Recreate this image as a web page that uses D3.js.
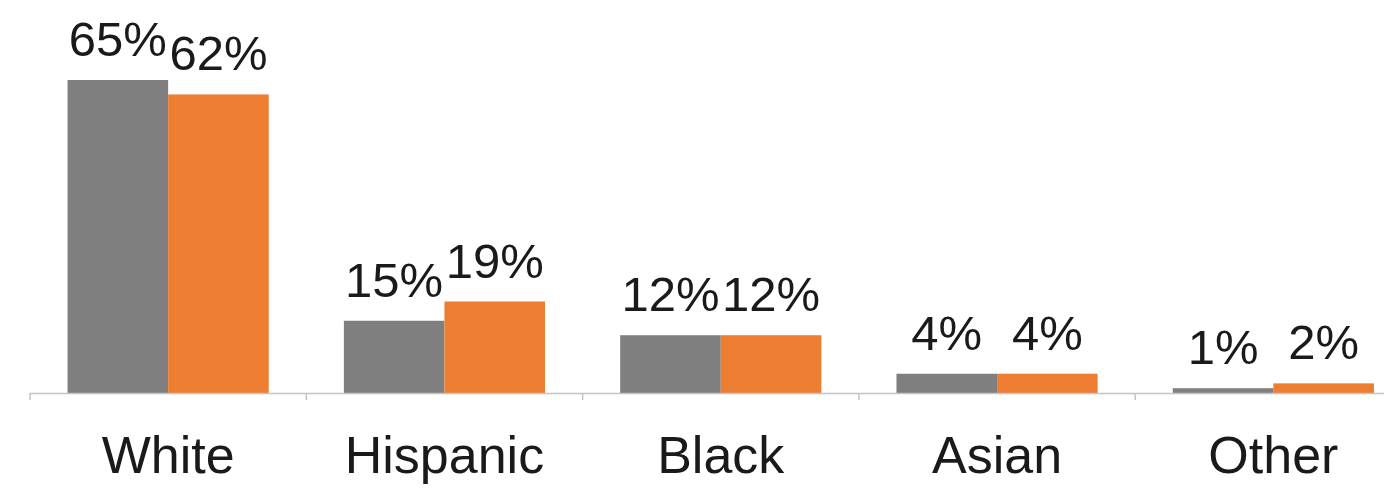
<!DOCTYPE html>
<html>
<head>
<meta charset="utf-8">
<script src="https://cdn.jsdelivr.net/npm/d3@7"></script>
<style>
  html, body { margin: 0; padding: 0; background: #ffffff; }
  svg { display: block; }
  text { font-family: "Liberation Sans", Arial, sans-serif; fill: #1a1a1a; }
</style>
</head>
<body>
<svg id="chart" width="1384" height="493"></svg>
<script>
// Share of population by race/ethnicity, two periods
const categories = ["White", "Hispanic", "Black", "Asian", "Other"];
const seriesNames = ["earlier", "later"];
const earlierValues = [65, 15, 12, 4, 1];
const laterValues = [62, 19, 12, 4, 2];
const valueLabels = [
  ["65%", "15%", "12%", "4%", "1%"],
  ["62%", "19%", "12%", "4%", "2%"]
];

const seriesValues = [earlierValues, laterValues];
const colors = ["#7f7f7f", "#ed7d31"];

const svg = d3.select("#chart");

const baseY = 393;
const x = d3.scaleBand()
  .domain(categories)
  .range([30, 30 + 5 * 276.3])
  .paddingInner(0)
  .paddingOuter(0);

const bw = x.bandwidth();
const xInner = d3.scaleBand()
  .domain(seriesNames)
  .range([bw * 0.136, bw * 0.864])
  .padding(0);

const y = d3.scaleLinear()
  .domain([0, 65])
  .range([baseY, 80]);

// bars
const groups = svg.append("g")
  .selectAll("g")
  .data(categories)
  .join("g")
  .attr("transform", d => `translate(${x(d)},0)`);

groups.selectAll("rect")
  .data((c, i) => seriesNames.map((s, j) => ({ s, j, v: seriesValues[j][i], label: valueLabels[j][i] })))
  .join("rect")
  .attr("x", d => xInner(d.s))
  .attr("width", xInner.bandwidth())
  .attr("y", d => y(d.v))
  .attr("height", d => baseY - y(d.v))
  .attr("fill", d => colors[d.j]);

// value labels
groups.selectAll("text.val")
  .data((c, i) => seriesNames.map((s, j) => ({ s, j, v: seriesValues[j][i], label: valueLabels[j][i] })))
  .join("text")
  .attr("class", "val")
  .attr("x", d => xInner(d.s) + xInner.bandwidth() / 2)
  .attr("y", d => y(d.v) - 24)
  .attr("text-anchor", "middle")
  .style("font-size", "49px")
  .text(d => d.label);

// category axis
const axis = d3.axisBottom(x).tickSize(0).tickPadding(0);
const axisG = svg.append("g")
  .attr("transform", `translate(0,${baseY})`)
  .call(axis);
axisG.select(".domain").remove();
axisG.selectAll("text")
  .attr("dy", null)
  .attr("y", 80)
  .style("font-size", "52px")
  .attr("fill", "#1a1a1a");

// baseline and boundary ticks
svg.append("line")
  .attr("x1", x.range()[0])
  .attr("x2", 1384)
  .attr("y1", baseY + 0.5)
  .attr("y2", baseY + 0.5)
  .attr("stroke", "#c4c4c4")
  .attr("stroke-width", 1.5);

const boundaries = categories.map(c => x(c));
svg.append("g")
  .selectAll("line")
  .data(boundaries)
  .join("line")
  .attr("x1", d => d)
  .attr("x2", d => d)
  .attr("y1", baseY)
  .attr("y2", baseY + 7)
  .attr("stroke", "#c4c4c4")
  .attr("stroke-width", 1.5);
</script>
</body>
</html>
